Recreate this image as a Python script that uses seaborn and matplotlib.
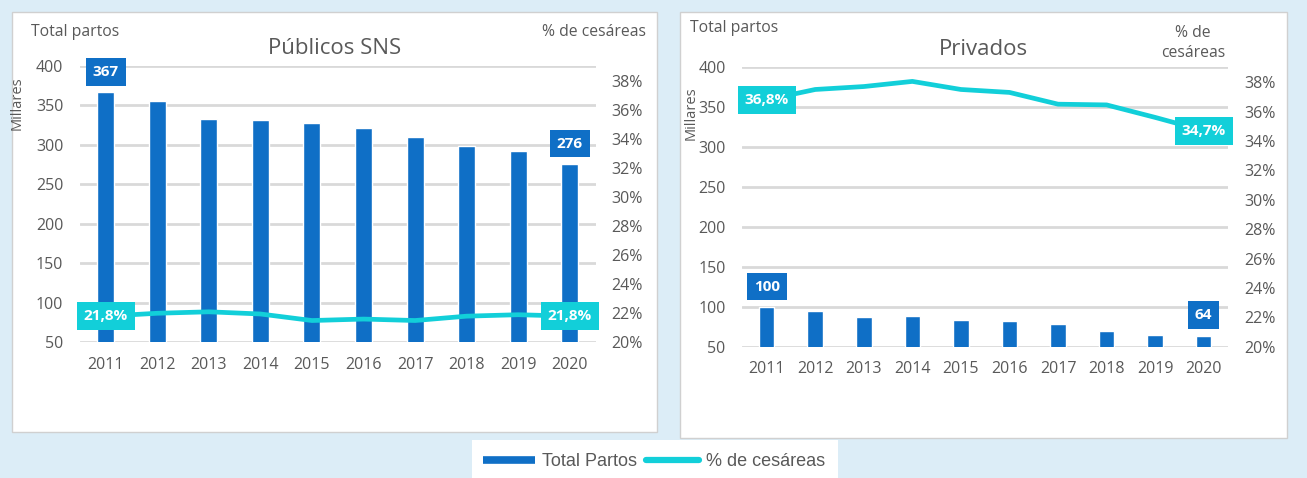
import numpy as np
import pandas as pd
import matplotlib
matplotlib.use("Agg")
import matplotlib.pyplot as plt
import seaborn as sns
from matplotlib.patches import Rectangle
from matplotlib.lines import Line2D

# ---------------- data ----------------
years = ["2011", "2012", "2013", "2014", "2015", "2016", "2017", "2018", "2019", "2020"]
pub_partos = [367, 355, 332.5, 331, 327.5, 321, 309.5, 298.5, 292, 276]
pub_ces = [21.8, 22.0, 22.1, 21.95, 21.5, 21.6, 21.5, 21.8, 21.9, 21.8]
priv_partos = [100, 95, 87.5, 88.5, 84, 82, 79, 69.5, 64.5, 64]
priv_ces = [36.8, 37.5, 37.7, 38.05, 37.5, 37.3, 36.5, 36.45, 35.6, 34.7]
left_ticks = [50, 100, 150, 200, 250, 300, 350, 400]
right_ticks = [20, 22, 24, 26, 28, 30, 32, 34, 36, 38]
pub_bar_labels = {0: "367", 9: "276"}
pub_line_labels = {0: "21,8%", 9: "21,8%"}
priv_bar_labels = {0: "100", 9: "64"}
priv_line_labels = {0: "36,8%", 9: "34,7%"}

BLUE = "#0f6fc6"
CYAN = "#12cfd9"
GRID = "#d9d9d9"
TXT = "#595959"
BG = "#dcedf7"

W, H, DPI = 1307, 478, 100
sns.set_theme(style="white")
plt.rcParams["font.family"] = ["Open Sans", "DejaVu Sans"]

fig = plt.figure(figsize=(W / DPI, H / DPI), dpi=DPI)
fig.patch.set_facecolor(BG)


def rect(x0, y0, x1, y1, **kw):
    fig.patches.append(Rectangle((x0 / W, 1 - y1 / H), (x1 - x0) / W, (y1 - y0) / H,
                                 transform=fig.transFigure, figure=fig, **kw))


rect(12, 12, 657, 432, facecolor="white", edgecolor="#d0d0d0", lw=1, zorder=-10)
rect(680, 12, 1287, 438, facecolor="white", edgecolor="#d0d0d0", lw=1, zorder=-10)
rect(472, 440, 838, 479, facecolor="white", edgecolor="none", zorder=-10)


def panel(box, partos, ces, bar_labels, line_labels, bar_w):
    x0, y_top, x1, y_bot = box
    ax = fig.add_axes([x0 / W, 1 - y_bot / H, (x1 - x0) / W, (y_bot - y_top) / H])
    ax.set_facecolor("none")
    df = pd.DataFrame({"year": years, "partos": partos, "ces": ces})
    sns.barplot(data=df, x="year", y="partos", color=BLUE, saturation=1, width=bar_w, ax=ax)
    ax.set_ylim(50, 400)
    ax.set_xlim(-0.5, len(years) - 0.5)
    ax.set_yticks(left_ticks)
    ax.yaxis.grid(True, color=GRID, lw=2)
    ax.set_axisbelow(True)
    for s in ax.spines.values():
        s.set_visible(False)
    ax.tick_params(axis="x", length=0, pad=10.5, labelsize=11.5, labelcolor=TXT)
    ax.tick_params(axis="y", length=0, pad=12, labelsize=11.5, labelcolor=TXT)
    ax.set_xlabel("")
    ax.set_ylabel("")

    ax2 = ax.twinx()
    sns.lineplot(x=np.arange(len(years)), y=ces, color=CYAN, lw=3.4, ax=ax2,
                 solid_capstyle="round", solid_joinstyle="round")
    ax2.set_ylim(20, 39.05)
    ax2.set_yticks(right_ticks)
    ax2.set_yticklabels([f"{t}%" for t in right_ticks])
    ax2.tick_params(axis="y", length=0, pad=11.5, labelsize=11.5, labelcolor=TXT)
    for s in ax2.spines.values():
        s.set_visible(False)
    ax2.grid(False)
    ax2.set_ylabel("")

    for i, t in bar_labels.items():
        ax.annotate(t, xy=(i, partos[i]), xytext=(0, 14.5), textcoords="offset points",
                    ha="center", va="center", color="white", fontsize=11, fontweight="bold",
                    bbox=dict(boxstyle="square,pad=0.45", fc=BLUE, ec="none"), zorder=5)
    for i, t in line_labels.items():
        ax2.annotate(t, xy=(i, ces[i]), ha="center", va="center", color="white",
                     fontsize=11, fontweight="bold",
                     bbox=dict(boxstyle="square,pad=0.45", fc=CYAN, ec="none"), zorder=5)
    return ax, ax2


panel((80, 65.7, 595.5, 342.3), pub_partos, pub_ces, pub_bar_labels, pub_line_labels, 0.33)
panel((742.4, 66.7, 1228, 346.7), priv_partos, priv_ces, priv_bar_labels, priv_line_labels, 0.32)

# panel texts
fig.text(31 / W, 1 - 32 / H, "Total partos", ha="left", va="center", fontsize=11.3, color=TXT)
fig.text(646 / W, 1 - 32.5 / H, "% de cesáreas", ha="right", va="center", fontsize=11.3, color=TXT)
fig.text(335 / W, 1 - 49 / H, "Públicos SNS", ha="center", va="center", fontsize=16, color=TXT)
fig.text(17.5 / W, 1 - 103 / H, "Millares", ha="center", va="center", rotation=90, fontsize=10.5, color=TXT)

fig.text(689.5 / W, 1 - 28.5 / H, "Total partos", ha="left", va="center", fontsize=11.3, color=TXT)
fig.text(1193 / W, 1 - 43 / H, "% de\ncesáreas", ha="center", va="center", fontsize=11.3,
         color=TXT, linespacing=1.4)
fig.text(983 / W, 1 - 49.3 / H, "Privados", ha="center", va="center", fontsize=16, color=TXT)
fig.text(691.5 / W, 1 - 113 / H, "Millares", ha="center", va="center", rotation=90, fontsize=10.5, color=TXT)

# legend
handles = [Line2D([], [], color=BLUE, lw=5.5, solid_capstyle="butt"),
           Line2D([], [], color=CYAN, lw=4.5, solid_capstyle="round")]
leg = fig.legend(handles, ["Total Partos", "% de cesáreas"], loc="center",
                 bbox_to_anchor=(654 / W, 1 - 462 / H), ncol=2, frameon=False,
                 prop={"family": "Liberation Sans", "size": 13}, handlelength=2.9,
                 handletextpad=0.4, columnspacing=0.5, borderpad=0)
for t in leg.get_texts():
    t.set_color(TXT)

fig.savefig("out.png", dpi=DPI, facecolor=fig.get_facecolor())
